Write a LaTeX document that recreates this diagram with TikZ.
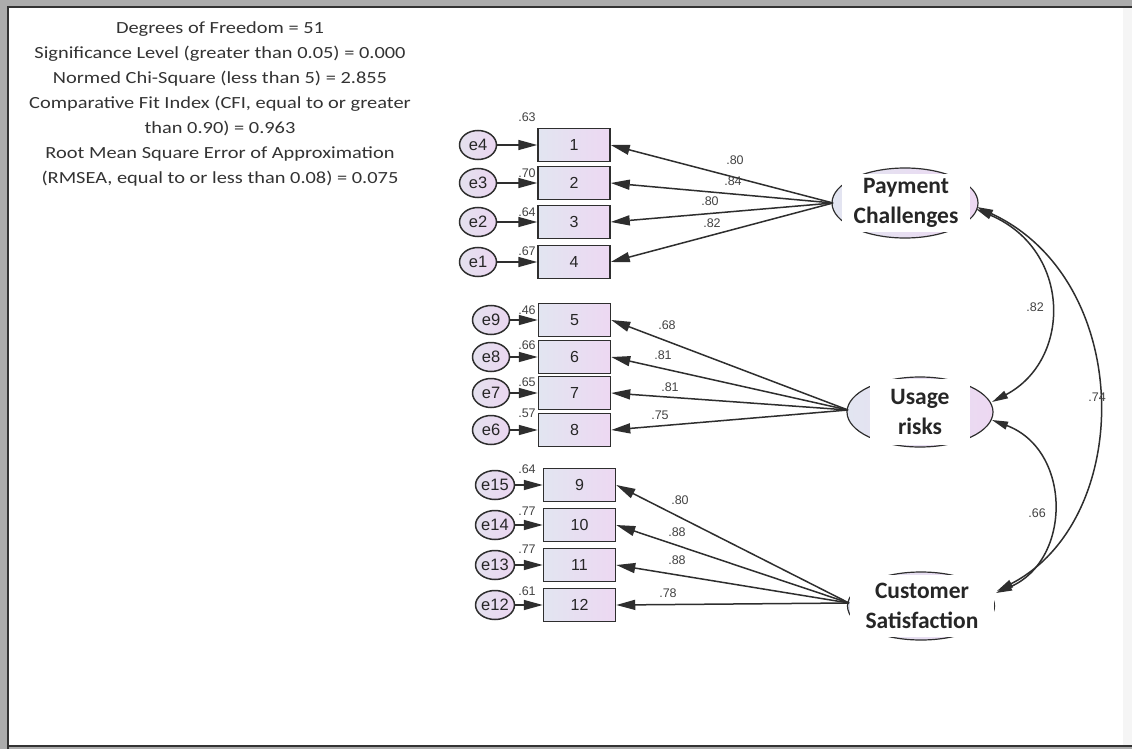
\documentclass[tikz,border=0pt]{standalone}
\usepackage{fontspec}
\setmainfont{Carlito}
\newfontfamily\arl{Liberation Sans}
\newfontfamily\calw[FakeStretch=1.2]{Carlito}
\usetikzlibrary{arrows.meta,shapes.geometric}
\definecolor{ln}{HTML}{2E2E2E}
\definecolor{boxL}{HTML}{E2E5F1}
\definecolor{boxR}{HTML}{EDD8F2}
\definecolor{errL}{HTML}{E4E1EE}
\definecolor{errR}{HTML}{EBD6F1}
\definecolor{coefc}{HTML}{444444}
\tikzset{
  obs/.style={draw=ln, line width=1.5pt, left color=boxL, right color=boxR, minimum width=72pt, minimum height=33pt, inner sep=0pt, font=\arl\fontsize{16}{16}\selectfont, text=black!85},
  err/.style={ellipse, draw=ln, line width=1.5pt, left color=errL, right color=errR, minimum width=37pt, minimum height=29pt, inner sep=0pt, font=\arl\fontsize{16.5}{16.5}\selectfont, text=black!85},
  lat/.style={ellipse, draw=ln, line width=1.2pt, left color=boxL, right color=boxR, minimum width=146pt, minimum height=70pt, inner sep=0pt},
  cover/.style={fill=white, inner sep=0pt, align=center, font=\bfseries\fontsize{23.5}{30}\selectfont, text=black!85},
  coef/.style={font=\arl\fontsize{12.5}{12.5}\selectfont, text=coefc, inner sep=0pt},
  ldpath/.style={draw=ln, line width=1.5pt, -{Triangle[length=19pt,width=10pt]}},
  covpath/.style={draw=ln, line width=1.5pt, {Triangle[length=16pt,width=8pt]}-{Triangle[length=16pt,width=8pt]}}
}
\begin{document}
\begin{tikzpicture}[x=1pt,y=-1pt]
\useasboundingbox (0,0) rectangle (1132,749);
% frame
\fill[white] (0,0) rectangle (1132,749);
\fill[gray!65] (0,0) rectangle (1132,6);
\fill[gray!65] (0,0) rectangle (7,749);
\fill[gray!65] (0,747) rectangle (1132,749);
\fill[black!4] (1123,8) rectangle (1132,745);
\draw[black!80, line width=2.2pt] (8,749) -- (8,7) -- (1132,7);
\draw[black!80, line width=2.2pt] (8,746) -- (1132,746);

% fit text
\node[align=center, font=\calw\fontsize{17}{25}\selectfont, text=black!80, inner sep=0pt] (fit) at (220,104) {Degrees of Freedom = 51\\Significance Level (greater than 0.05) = 0.000\\Normed Chi-Square (less than 5) = 2.855\\Comparative Fit Index (CFI, equal to or greater\\than 0.90) = 0.963\\Root Mean Square Error of Approximation\\(RMSEA, equal to or less than 0.08) = 0.075};

% latent variables
\node[lat] (P) at (905,203) {};
\node[cover, minimum width=128pt, minimum height=58pt] (Pt) at (906,203) {Payment\\Challenges};
\node[lat] (U) at (920,412) {};
\node[cover, minimum width=100pt, minimum height=66pt] (Ut) at (920,412) {Usage\\risks};
\node[lat, minimum width=147pt, minimum height=68pt] (C) at (921,606) {};
\node[cover, minimum width=144pt, minimum height=62pt] (Ct) at (922,606) {Customer\\Satisfaction};

\coordinate (Pl) at (833,203);
\coordinate (Ul) at (848,410);
\coordinate (Cl) at (849,603);
\coordinate (Pr1) at (976,209);
\coordinate (Pr2) at (977,207);
\coordinate (Ur1) at (992,402);
\coordinate (Ur2) at (992,420);
\coordinate (Cr1) at (996,593);
\coordinate (Cr2) at (997,591);

% observed group 1
\foreach \n/\e/\y in {1/4/145,2/3/183,3/2/222,4/1/262}{
  \node[obs] (b\n) at (574,\y) {\n};
  \node[err] (e\e) at (478,\y) {e\e};
  \draw[ldpath] (e\e) -- (b\n);
  \draw[ldpath] (Pl) -- (b\n.east);
}
% observed group 2
\foreach \n/\e/\y in {5/9/320,6/8/357,7/7/393,8/6/430}{
  \node[obs] (b\n) at (574.5,\y) {\n};
  \node[err] (e\e) at (491,\y) {e\e};
  \draw[ldpath] (e\e) -- (b\n);
  \draw[ldpath] (Ul) -- (b\n.east);
}
% observed group 3
\foreach \n/\e/\y in {9/15/485,10/14/525,11/13/565,12/12/605}{
  \node[obs] (b\n) at (579.5,\y) {\n};
  \node[err] (e\e) at (495,\y) {e\e};
  \draw[ldpath] (e\e) -- (b\n);
  \draw[ldpath] (Cl) -- (b\n.east);
}

% covariances
\draw[covpath] (Pr1) .. controls (1072,250) and (1072,360) .. (Ur1);
\draw[covpath] (Ur2) .. controls (1072,450) and (1072,560) .. (Cr1);
\draw[covpath] (Pr2) .. controls (1135,280) and (1135,520) .. (Cr2);

% squared multiple correlations
\foreach \t/\x/\y [count=\i] in {.63/527/117,.70/527/173,.64/527/212,.67/527/251,.46/527/310,.66/527/345,.65/527/382,.57/527/413,.64/527/469,.77/527/511,.77/527/549,.61/527/591}{
  \node[coef] (r\i) at (\x,\y) {\t};
}
% loadings
\foreach \t/\x/\y [count=\i] in {.80/735/160,.84/733/181,.80/710/201,.82/712/223,.68/667/325,.81/663/355,.81/670/387,.75/660/415,.80/680/500,.88/677/532,.88/677/560,.78/668/593}{
  \node[coef] (l\i) at (\x,\y) {\t};
}
% covariance labels
\node[coef] (c1) at (1035,307) {.82};
\node[coef] (c2) at (1037,513) {.66};
\node[coef] (c3) at (1097,397) {.74};
\end{tikzpicture}
\end{document}
